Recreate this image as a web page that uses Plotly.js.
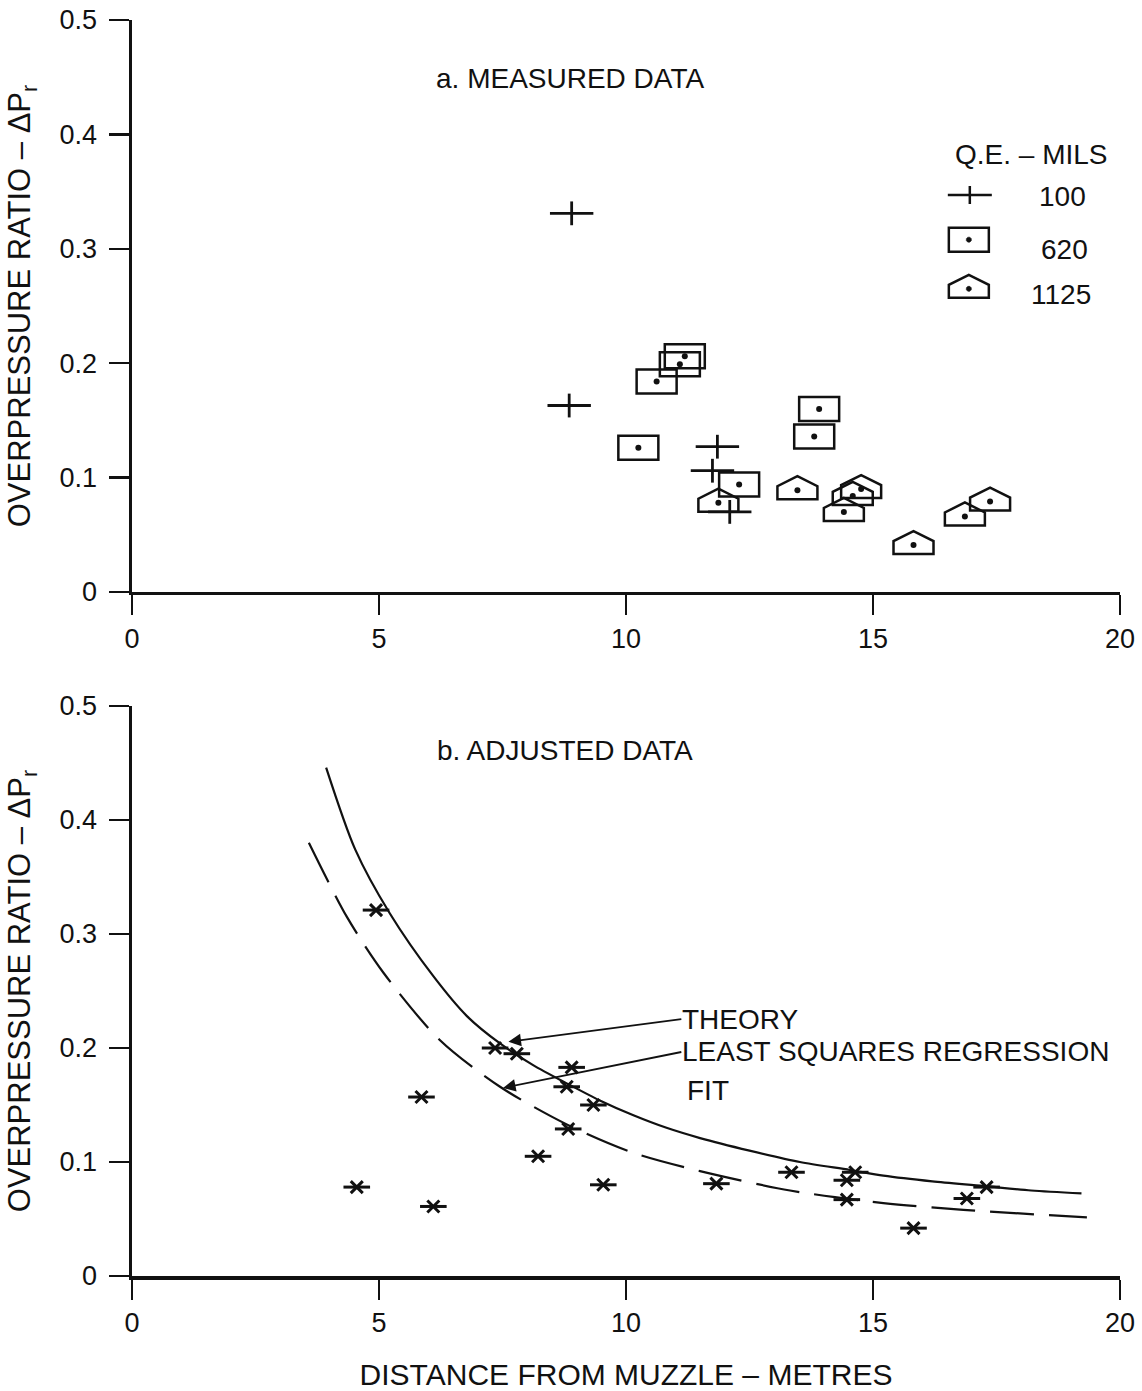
<!DOCTYPE html>
<html>
<head>
<meta charset="utf-8">
<script src="https://cdn.plot.ly/plotly-3.0.1.min.js"></script>
<style>html,body{margin:0;padding:0;background:#fff;}#chart{width:1142px;height:1391px;}</style>
</head>
<body>
<div id="chart"></div>
<script>
// ---- a. MEASURED DATA ----
const crossX = [8.9, 8.85, 11.85, 11.75, 12.1];          // Q.E. 100 mils
const crossY = [0.331, 0.163, 0.127, 0.106, 0.070];
const rectX = [10.62, 11.09, 11.19, 10.25, 13.91, 13.81, 12.29];  // Q.E. 620 mils
const rectY = [0.184, 0.199, 0.206, 0.126, 0.160, 0.136, 0.094];
const houseX = [11.87, 13.47, 14.41, 14.59, 14.76, 15.82, 16.86, 17.37]; // Q.E. 1125 mils
const houseY = [0.078, 0.089, 0.070, 0.084, 0.090, 0.041, 0.066, 0.079];

// ---- b. ADJUSTED DATA ----
const adjX = [4.94, 7.35, 7.79, 8.90, 8.80, 9.34, 8.83, 5.86, 8.22, 9.54, 4.55, 6.10, 11.83, 13.35, 14.64, 14.47, 14.47, 15.82, 16.9, 17.3];
const adjY = [0.321, 0.200, 0.195, 0.183, 0.166, 0.150, 0.129, 0.157, 0.105, 0.080, 0.078, 0.061, 0.081, 0.091, 0.091, 0.084, 0.067, 0.042, 0.068, 0.078];
const theoryX = [3.93, 4.52, 5.22, 6.1, 6.78, 7.45, 8.12, 8.8, 9.47, 10.15, 10.82, 11.5, 12.5, 13.52, 14.53, 15.21, 16.2, 17.23, 18.2, 19.22];
const theoryY = [0.446, 0.374, 0.318, 0.263, 0.228, 0.204, 0.185, 0.169, 0.154, 0.141, 0.130, 0.121, 0.110, 0.100, 0.093, 0.088, 0.083, 0.079, 0.075, 0.0725];
const fitX = [3.58, 4.35, 5.09, 6.23, 7.45, 8.8, 10.15, 11.5, 13.32, 15.21, 16.83, 19.33];
const fitY = [0.380, 0.315, 0.266, 0.207, 0.166, 0.133, 0.108, 0.092, 0.075, 0.064, 0.058, 0.0515];

// legend
const legendTitle = 'Q.E. \u2013 MILS';
const legendLabels = ['100', '620', '1125'];

const INK = '#111';
const FONT = 'Liberation Sans, Arial, Helvetica, sans-serif';

const RECT_PATH = 'M-20,-12 L20,-12 L20,12 L-20,12 Z';
const HOUSE_PATH = 'M-20,-9 L20,-9 L20,4 L0,14 L-20,4 Z';
const CROSS_PATH = 'M-22,0 L22,0 M0,-9 L0,9';
const DOT_PATH = 'M-2.5,-1 L-1,-2.5 L1,-2.5 L2.5,-1 L2.5,1 L1,2.5 L-1,2.5 L-2.5,1 Z';

function glyphs(xs, ys, path, xref, yref, fill) {
  return xs.map((x, i) => ({
    type: 'path', xref: xref, yref: yref,
    xsizemode: 'pixel', ysizemode: 'pixel',
    xanchor: x, yanchor: ys[i], path: path,
    line: {color: INK, width: fill ? 0.5 : 2.5},
    fillcolor: fill ? INK : 'rgba(0,0,0,0)', layer: 'above'
  }));
}

const traces = [
  // top: crosses (horizontal + vertical strokes)
  {x: crossX, y: crossY, xaxis: 'x', yaxis: 'y', mode: 'markers', type: 'scatter',
   marker: {symbol: 'line-ew', size: 31, line: {color: INK, width: 2.8}}},
  {x: crossX, y: crossY, xaxis: 'x', yaxis: 'y', mode: 'markers', type: 'scatter',
   marker: {symbol: 'line-ns', size: 17, line: {color: INK, width: 2.8}}},
  // top: centre dots of rectangles and houses
  {x: rectX, y: rectY, xaxis: 'x', yaxis: 'y', mode: 'markers', type: 'scatter',
   marker: {symbol: 'circle', size: 6, color: INK}},
  {x: houseX, y: houseY, xaxis: 'x', yaxis: 'y', mode: 'markers', type: 'scatter',
   marker: {symbol: 'circle', size: 6, color: INK}},
  // bottom: curves
  {x: theoryX, y: theoryY, xaxis: 'x2', yaxis: 'y2', mode: 'lines', type: 'scatter',
   line: {color: INK, width: 2.2, shape: 'spline', smoothing: 0.8}},
  {x: fitX, y: fitY, xaxis: 'x2', yaxis: 'y2', mode: 'lines', type: 'scatter',
   line: {color: INK, width: 2.2, shape: 'spline', smoothing: 0.8, dash: '44px,15px'}},
  // bottom: asterisks
  {x: adjX, y: adjY, xaxis: 'x2', yaxis: 'y2', mode: 'markers', type: 'scatter',
   marker: {symbol: 'line-ew', size: 19, line: {color: INK, width: 3}}},
  {x: adjX, y: adjY, xaxis: 'x2', yaxis: 'y2', mode: 'markers', type: 'scatter',
   marker: {symbol: 'x-thin', size: 12, line: {color: INK, width: 3}}}
];

const shapes = []
  .concat(glyphs(rectX, rectY, RECT_PATH, 'x', 'y'))
  .concat(glyphs(houseX, houseY, HOUSE_PATH, 'x', 'y'))
  // legend symbols
  .concat(glyphs([16.96], [0.347], CROSS_PATH, 'x', 'y'))
  .concat(glyphs([16.94], [0.308], RECT_PATH, 'x', 'y'))
  .concat(glyphs([16.94], [0.308], DOT_PATH, 'x', 'y', true))
  .concat(glyphs([16.94], [0.265], HOUSE_PATH, 'x', 'y'))
  .concat(glyphs([16.94], [0.265], DOT_PATH, 'x', 'y', true));

const tfont = {family: FONT, size: 28, color: INK};

const annotations = [
  {xref: 'x', yref: 'y', x: 8.87, y: 0.449, text: 'a. MEASURED DATA', showarrow: false, font: tfont},
  {xref: 'x2', yref: 'y2', x: 8.77, y: 0.461, text: 'b. ADJUSTED DATA', showarrow: false, font: tfont},
  {xref: 'x', yref: 'y', x: 18.2, y: 0.382, text: legendTitle, showarrow: false, font: tfont},
  {xref: 'x', yref: 'y', x: 18.83, y: 0.346, text: legendLabels[0], showarrow: false, font: tfont},
  {xref: 'x', yref: 'y', x: 18.87, y: 0.299, text: legendLabels[1], showarrow: false, font: tfont},
  {xref: 'x', yref: 'y', x: 18.8, y: 0.260, text: legendLabels[2], showarrow: false, font: tfont},
  {xref: 'x2', yref: 'y2', x: 7.62, y: 0.2055, axref: 'x2', ayref: 'y2', ax: 11.12, ay: 0.2254,
   text: 'THEORY', xanchor: 'left', yanchor: 'middle', showarrow: true, arrowhead: 2, arrowsize: 1.4,
   arrowwidth: 1.8, arrowcolor: INK, standoff: 0, borderpad: 0, font: tfont},
  {xref: 'x2', yref: 'y2', x: 7.51, y: 0.165, axref: 'x2', ayref: 'y2', ax: 11.12, ay: 0.1965,
   text: 'LEAST SQUARES REGRESSION', xanchor: 'left', yanchor: 'middle', showarrow: true, arrowhead: 2, arrowsize: 1.4,
   arrowwidth: 1.8, arrowcolor: INK, standoff: 0, borderpad: 0, font: tfont},
  {xref: 'x2', yref: 'y2', x: 11.2, y: 0.163, text: 'FIT', xanchor: 'left', yanchor: 'middle',
   showarrow: false, font: tfont}
];

function xAxis(anchor, withTitle) {
  const ax = {
    anchor: anchor, domain: [0, 1], range: [0, 20], tick0: 0, dtick: 5,
    showgrid: false, zeroline: false, showline: true, linecolor: INK, linewidth: 3.5,
    ticks: 'outside', ticklen: 20, tickwidth: 2.5, tickcolor: INK,
    ticklabelstandoff: 0, tickfont: {family: FONT, size: 27, color: INK},
    fixedrange: true
  };
  if (withTitle) ax.title = {text: 'DISTANCE FROM MUZZLE \u2013 METRES', font: {family: FONT, size: 30, color: INK}, standoff: 28};
  return ax;
}
function yAxis(anchor, domain) {
  return {
    anchor: anchor, domain: domain, range: [0, 0.5], tick0: 0, dtick: 0.1,
    showgrid: false, zeroline: false, showline: true, linecolor: INK, linewidth: 3.5,
    ticks: 'outside', ticklen: 20, tickwidth: 2.5, tickcolor: INK,
    ticklabelstandoff: 6, tickfont: {family: FONT, size: 27, color: INK},
    title: {text: 'OVERPRESSURE RATIO \u2013 \u0394P<sub>r</sub>', font: {family: FONT, size: 31, color: INK}, standoff: 20},
    fixedrange: true
  };
}

const layout = {
  width: 1142, height: 1391,
  margin: {l: 132, r: 22, t: 20, b: 115},
  paper_bgcolor: '#fff', plot_bgcolor: '#fff',
  showlegend: false,
  xaxis: xAxis('y', false),
  yaxis: yAxis('x', [0.5446, 1]),
  xaxis2: xAxis('y2', true),
  yaxis2: yAxis('x2', [0, 0.4538]),
  shapes: shapes,
  annotations: annotations
};

Plotly.newPlot('chart', traces, layout, {displayModeBar: false, staticPlot: true});
</script>
</body>
</html>
